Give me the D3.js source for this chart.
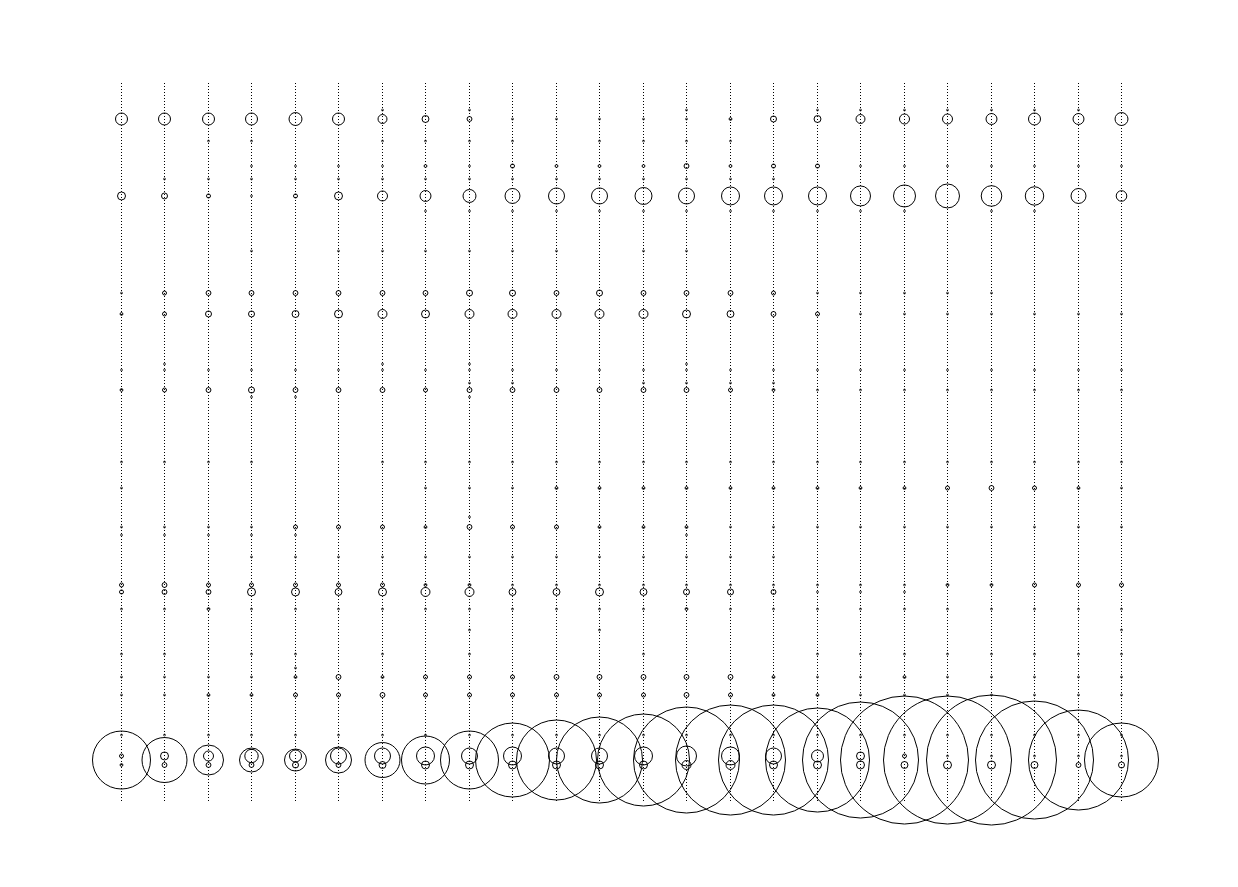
<!DOCTYPE html>
<html>
<head>
<meta charset="utf-8">
<script src="https://cdn.jsdelivr.net/npm/d3@7"></script>
<style>
html,body{margin:0;padding:0;background:#fff;}
svg{display:block;}
</style>
</head>
<body>
<svg id="chart" width="1238" height="887"></svg>
<script>
// Columns (24 groups)
const columns = [0,1,2,3,4,5,6,7,8,9,10,11,12,13,14,15,16,17,18,19,20,21,22,23];

// Row positions (value on the vertical axis, 0..100)
const rowPositions = [96.25,95.0,91.94,88.47,86.67,84.31,82.22,76.67,70.83,67.92,60.97,60.14,58.33,57.36,56.39,47.36,43.75,39.72,38.33,37.22,34.17,30.28,29.31,26.94,24.03,20.69,18.75,17.5,15.0,9.44,6.53,5.97,5.28];

// Counts per row (one value per column); 0 = no symbol
const r01 = [0,0,0,0,0,0,1,0,1,0,0,0,0,1,0,0,1,1,1,1,1,1,1,0];
const r02 = [36,36,36,36,42,36,20,12,6,1,1,1,1,1,2,9,12,20,25,25,30,36,30,42];
const r03 = [0,0,1,1,0,0,1,1,1,1,0,1,1,1,1,0,0,0,0,0,0,0,0,0];
const r04 = [0,0,0,1,1,1,1,2,1,4,2,2,2,6,2,4,4,1,1,1,1,1,1,1];
const r05 = [0,1,1,1,1,1,1,1,1,1,1,1,1,1,1,1,0,0,0,0,0,0,0,0];
const r06 = [16,9,4,1,4,16,25,30,42,56,64,64,72,64,81,81,81,100,121,144,106,85,56,28];
const r07 = [0,0,0,0,0,0,0,1,1,1,1,1,1,1,1,1,1,1,1,0,1,1,0,0];
const r08 = [0,0,0,1,0,1,1,1,1,1,1,0,1,1,0,0,0,0,0,0,0,0,0,0];
const r09 = [1,4,6,6,6,6,6,6,9,9,6,9,6,6,6,4,1,1,1,1,1,0,0,0];
const r10 = [2,4,9,9,12,16,20,16,20,20,20,20,20,16,12,6,4,1,1,1,1,1,1,1];
const r11 = [0,1,0,0,0,0,1,0,1,0,0,0,0,1,0,0,0,0,0,0,0,0,0,0];
const r12 = [1,1,1,1,1,1,1,1,1,1,1,1,1,1,1,1,1,1,1,1,1,1,1,1];
const r13 = [0,0,0,0,0,0,0,0,1,1,0,0,1,1,1,1,0,0,0,0,0,0,0,0];
const r14 = [2,4,6,9,6,6,6,4,6,6,6,6,6,6,4,2,1,1,1,1,1,1,1,1];
const r15 = [0,0,0,1,1,0,0,0,1,0,0,0,0,0,0,0,0,0,0,0,0,0,0,0];
const r16 = [1,1,1,1,0,0,1,1,1,1,1,1,1,1,1,1,1,1,1,1,1,1,1,1];
const r17 = [1,0,0,0,0,0,0,1,1,1,2,2,2,2,2,2,2,2,2,4,6,4,2,1];
const r18 = [0,0,0,0,0,0,0,0,1,0,0,0,0,0,0,0,0,0,0,0,0,0,0,0];
const r19 = [1,1,1,1,4,4,4,2,6,4,4,2,2,2,1,1,1,1,1,1,1,1,1,1];
const r20 = [1,1,1,1,1,0,0,0,0,0,0,0,0,1,0,0,0,0,0,0,0,0,0,0];
const r21 = [0,0,0,1,1,1,1,1,1,1,1,1,1,1,1,1,0,0,0,0,0,0,0,0];
const r22 = [4,6,4,4,4,4,4,2,2,1,1,1,1,1,1,1,1,1,1,2,2,4,4,4];
const r23 = [4,6,6,16,16,12,16,20,20,12,12,16,12,9,9,6,1,1,1,0,0,0,0,0];
const r24 = [1,1,2,1,1,1,1,1,1,1,1,1,1,2,1,1,1,1,1,1,1,1,1,1];
const r25 = [0,0,0,0,0,0,0,0,1,0,0,1,0,0,0,0,0,0,0,0,0,0,0,1];
const r26 = [1,1,0,1,1,0,1,0,1,0,0,0,1,0,0,0,1,1,1,1,1,1,1,1];
const r27 = [0,0,0,0,1,0,0,0,0,0,0,0,0,0,0,0,0,0,0,0,0,0,0,0];
const r28 = [1,1,1,1,2,6,2,4,4,4,6,6,6,6,6,2,1,1,2,1,1,1,1,1];
const r29 = [1,1,2,2,4,4,6,4,4,4,4,4,4,6,4,2,2,1,1,1,1,1,1,1];
const r30 = [1,1,1,1,1,1,1,1,1,1,1,1,1,1,1,1,1,1,1,1,1,1,1,1];
const r31 = [4,16,25,45,36,64,64,81,64,81,64,64,81,100,81,64,36,16,4,1,1,1,1,1];
const r32 = [841,506,225,144,121,169,306,576,841,1369,1600,1849,2116,2809,3025,3025,2704,3364,4096,4096,4225,3481,2500,1369];
const r33 = [2,6,6,6,9,6,12,16,16,16,16,16,16,20,20,16,16,16,12,16,16,12,6,9];

const rowValues = [r01,r02,r03,r04,r05,r06,r07,r08,r09,r10,r11,r12,r13,r14,r15,r16,r17,r18,r19,r20,r21,r22,r23,r24,r25,r26,r27,r28,r29,r30,r31,r32,r33];

const svg = d3.select("#chart");

const x = d3.scalePoint().domain(columns).range([121, 1121]);
const y = d3.scaleLinear().domain([0, 100]).range([803, 83]);
const r = d3.scaleSqrt().domain([0, 4225]).range([0, 65]);

// dotted vertical guide lines
svg.append("g").selectAll("line")
  .data(columns)
  .join("line")
  .attr("x1", d => Math.round(x(d)) + 0.5)
  .attr("x2", d => Math.round(x(d)) + 0.5)
  .attr("y1", y(100))
  .attr("y2", y(0))
  .attr("stroke", "#000")
  .attr("stroke-width", 1)
  .attr("stroke-dasharray", "1,2")
  .attr("shape-rendering", "crispEdges");

// flatten data
const points = [];
rowValues.forEach((vals, i) => {
  vals.forEach((v, j) => {
    if (v > 0) points.push({col: columns[j], pos: rowPositions[i], value: v});
  });
});

svg.append("g").selectAll("circle")
  .data(points)
  .join("circle")
  .attr("cx", d => Math.round(x(d.col)) + 0.5)
  .attr("cy", d => y(d.pos))
  .attr("r", d => r(d.value))
  .attr("fill", "none")
  .attr("stroke", "#000")
  .attr("stroke-width", d => d.value <= 1 ? 0.7 : 1);
</script>
</body>
</html>
